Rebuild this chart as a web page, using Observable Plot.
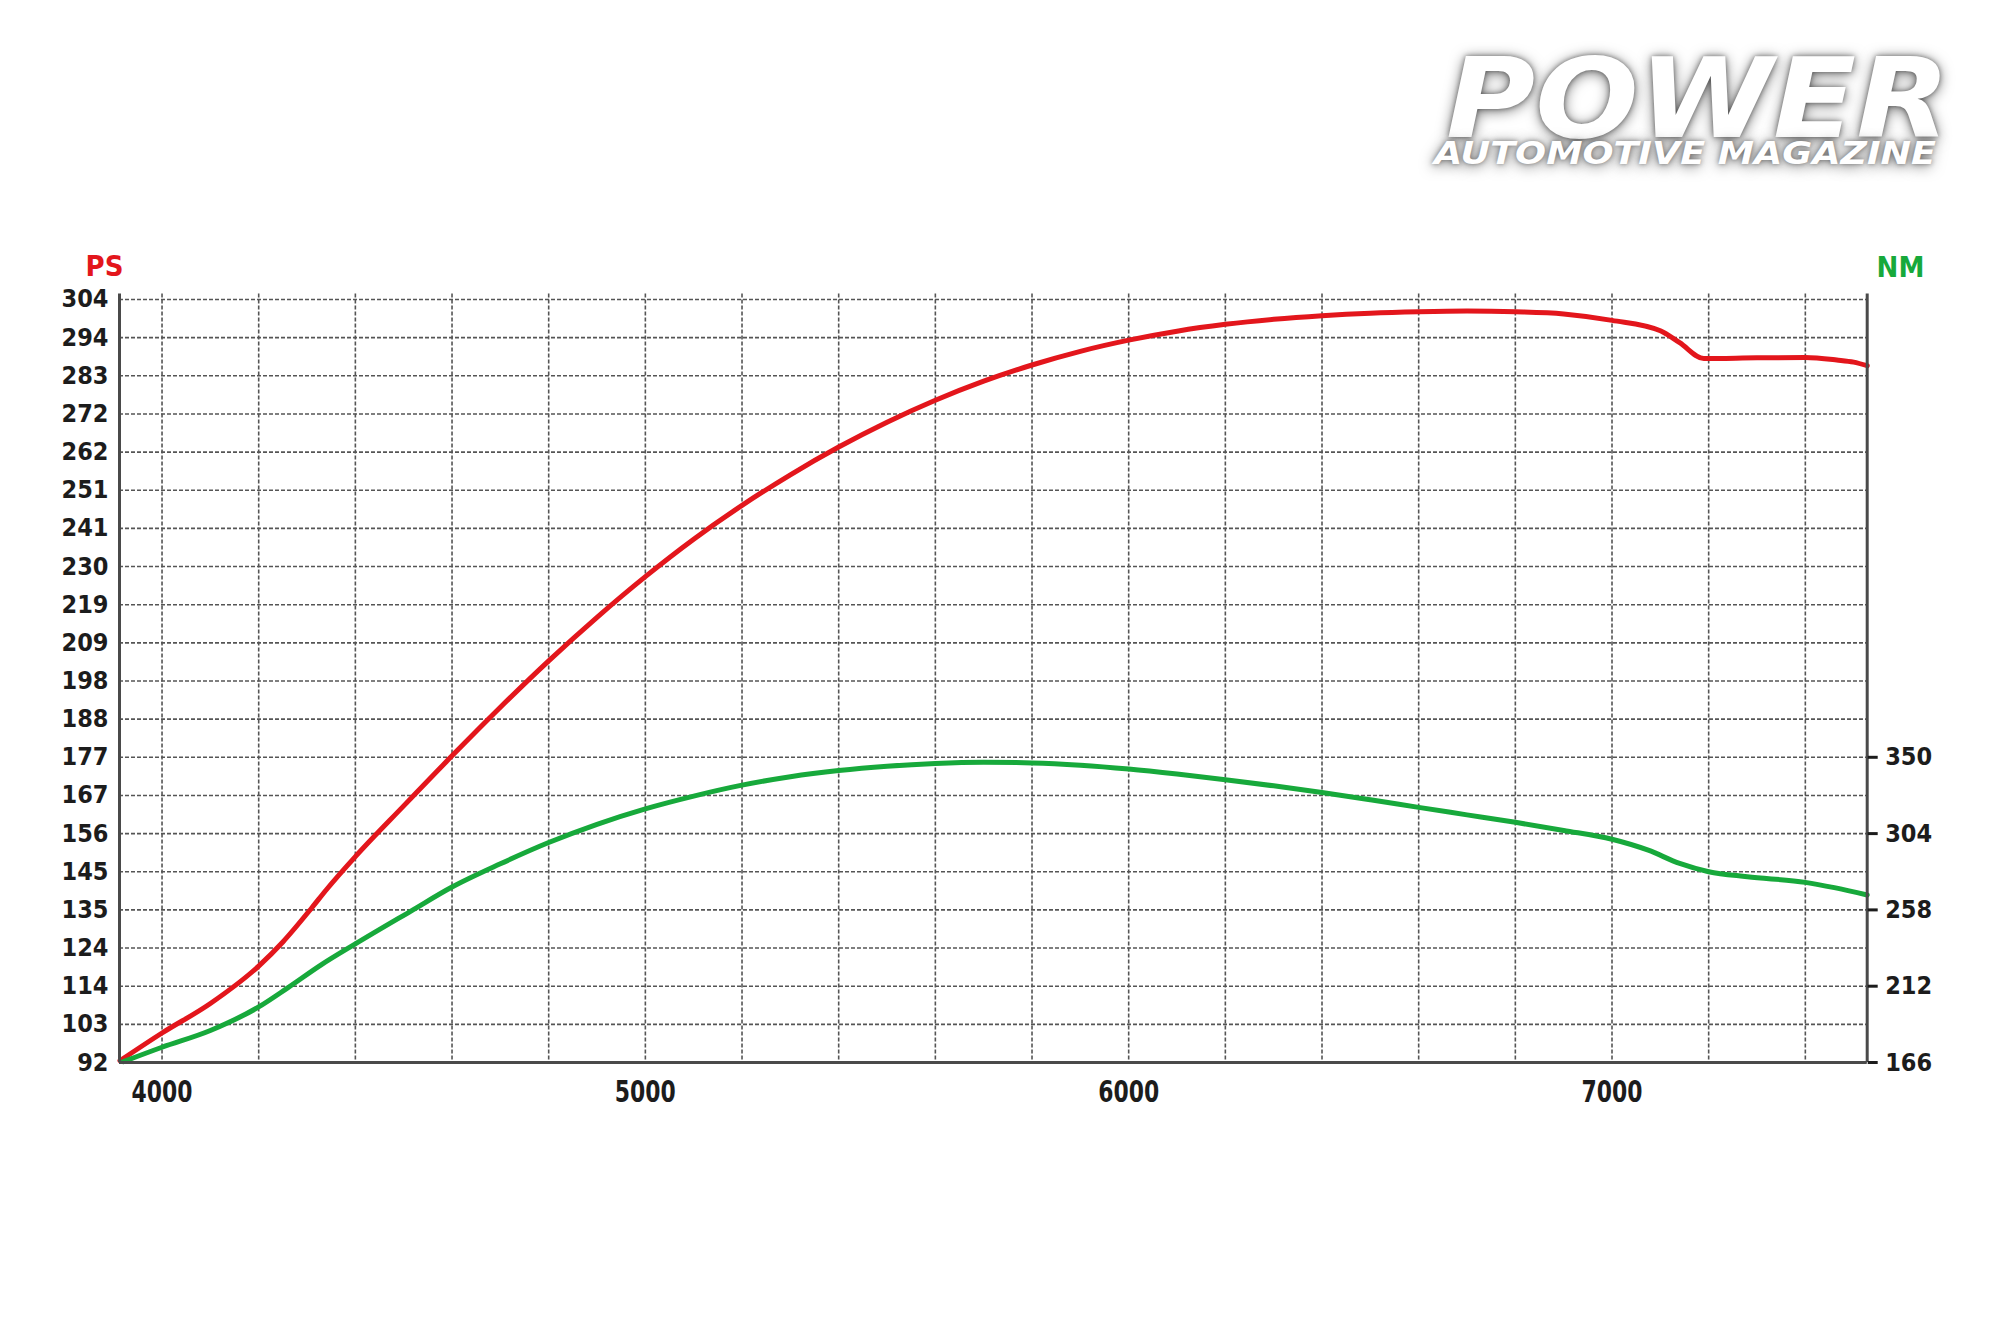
<!DOCTYPE html>
<html>
<head>
<meta charset="utf-8">
<script src="https://cdn.jsdelivr.net/npm/d3@7"></script>
<script src="https://cdn.jsdelivr.net/npm/@observablehq/plot@0.6"></script>
<style>
  html, body { margin: 0; padding: 0; background: #fff; }
  #wrap { position: relative; width: 2000px; height: 1333px; overflow: hidden; }
  #chart svg { display: block; }
  .logo {
    position: absolute; margin: 0; padding: 0; white-space: nowrap;
    font-family: "DejaVu Sans", sans-serif; font-weight: bold; font-style: italic;
    color: #fff; transform-origin: 0 0;
    text-shadow: 0 0 5px rgba(0,0,0,0.45), 0 2px 13px rgba(0,0,0,0.55);
  }
  #logoMain { left: 1446px; top: 59px; font-size: 110px; line-height: 80px; }
  #logoSub { left: 1434px; top: 141.6px; font-size: 31.5px; line-height: 23px; }
</style>
</head>
<body>
<div id="wrap">
  <div id="chart"></div>
  <div class="logo" id="logoMain">POWER</div>
  <div class="logo" id="logoSub">AUTOMOTIVE MAGAZINE</div>
</div>
<script>
// ---- data ----
const rpmPS = [3913, 4000, 4100, 4200, 4250, 4310, 4340, 4400, 4500, 4600, 4700, 4800, 4900, 5000, 5100, 5200, 5300, 5400, 5500, 5600, 5700, 5800, 5900, 6000, 6100, 6200, 6300, 6400, 6500, 6600, 6700, 6800, 6900, 7000, 7100, 7140, 7190, 7300, 7400, 7465, 7500, 7528];
const psValues = [92.5, 100.2, 108.4, 118.8, 125.5, 135, 140, 149.2, 163.3, 177.2, 190.7, 203.6, 215.7, 227, 237.4, 246.8, 255.3, 263, 269.9, 276, 281.3, 285.8, 289.6, 292.7, 295.2, 297.1, 298.5, 299.5, 300.2, 300.6, 300.8, 300.6, 300, 298.2, 295.3, 292, 287.6, 287.8, 287.9, 287.2, 286.6, 285.6];

const rpmNM = [3920, 4000, 4100, 4200, 4260, 4330, 4400, 4515, 4600, 4700, 4800, 4900, 5000, 5100, 5200, 5300, 5400, 5500, 5600, 5700, 5800, 5900, 6000, 6100, 6200, 6300, 6400, 6500, 6600, 6700, 6800, 6900, 7000, 7075, 7140, 7200, 7280, 7400, 7460, 7528];
const nmValues = [166.5, 175.2, 185.3, 199.5, 211, 225, 237.5, 257.3, 271.8, 285.8, 298.6, 309.6, 318.9, 326.6, 333.2, 338.3, 342, 344.6, 346.3, 347, 346.6, 345.2, 342.9, 339.9, 336.5, 332.8, 328.8, 324.4, 319.8, 315.3, 310.8, 305.9, 300.6, 294, 286, 281, 278, 274.6, 271.4, 267];

const psLabels = ["92", "103", "114", "124", "135", "145", "156", "167", "177", "188", "198", "209", "219", "230", "241", "251", "262", "272", "283", "294", "304"];
const nmLabels = ["166", "212", "258", "304", "350"];
const xLabels = [4000, 5000, 6000, 7000];
const xGrid = [4000, 4200, 4400, 4600, 4800, 5000, 5200, 5400, 5600, 5800, 6000, 6200, 6400, 6600, 6800, 7000, 7200, 7400];
const xDomain = [3912, 7528];

// ---- scale helpers ----
const psMin = 92, psMax = 304, nmMin = 166, nmStep = 23, steps = 20;
const psStep = (psMax - psMin) / steps;
const toPS = v => psMin + (v - nmMin) / nmStep * psStep;   // NM value on the PS scale
const psTicks = psLabels.map((_, i) => psMin + i * psStep);
const nmTicks = nmLabels.map(v => toPS(+v));

const psData = rpmPS.map((r, i) => ({rpm: r, v: psValues[i]}));
const nmData = rpmNM.map((r, i) => ({rpm: r, v: nmValues[i]}));

const RED = "#e3161c";
const GREEN = "#17a93b";
const FONT = '"DejaVu Sans Condensed", "DejaVu Sans", sans-serif';
const gridStyle = {stroke: "#555", strokeOpacity: 1, strokeWidth: 1.6, strokeDasharray: "4,2"};

const chart = Plot.plot({
  width: 2000,
  height: 1333,
  marginLeft: 119,
  marginRight: 133.3,
  marginTop: 293.6,
  marginBottom: 271,
  x: {domain: xDomain},
  y: {domain: [psMin, 305.5]},
  style: {background: "#fff", fontFamily: FONT, fontWeight: "bold", fontStretch: "condensed", color: "#1c1c1c"},
  marks: [
    Plot.gridX(xGrid, gridStyle),
    Plot.gridY(psTicks, gridStyle),
    Plot.line(psData, {x: "rpm", y: "v", stroke: RED, strokeWidth: 5, curve: "monotone-x"}),
    Plot.line(nmData, {x: "rpm", y: d => toPS(d.v), stroke: GREEN, strokeWidth: 5, curve: "monotone-x"}),
    Plot.ruleX(xDomain, {stroke: "#4a4a4a", strokeWidth: 3}),
    Plot.ruleY([psMin], {stroke: "#4a4a4a", strokeWidth: 3}),
    Plot.axisY(psTicks, {anchor: "left", tickSize: 0, tickPadding: 11, fontSize: 25, label: null,
      tickFormat: d => psLabels[psTicks.indexOf(d)]}),
    Plot.axisY(nmTicks, {anchor: "right", tickSize: 10, tickPadding: 8, strokeWidth: 3, fontSize: 25, label: null,
      tickFormat: d => nmLabels[nmTicks.indexOf(d)]}),
    Plot.axisX(xLabels, {anchor: "bottom", tickSize: 0, tickPadding: 18, fontSize: 30, label: null,
      tickFormat: d => String(d)}),
    Plot.text(["PS"], {frameAnchor: "top-left", text: d => d, dx: -15, dy: -27.6, lineAnchor: "middle", fill: RED, fontSize: 29, fontWeight: "bold", textAnchor: "middle"}),
    Plot.text(["NM"], {frameAnchor: "top-right", text: d => d, dx: 33.3, dy: -26.3, lineAnchor: "middle", fill: GREEN, fontSize: 29, fontWeight: "bold", textAnchor: "middle"})
  ]
});

d3.select(chart).selectAll('g[aria-label="x-axis tick label"] text')
  .attr("textLength", 61).attr("lengthAdjust", "spacingAndGlyphs");

document.getElementById("chart").appendChild(chart);

// stretch the logo words horizontally to the reference widths
[["logoMain", 504], ["logoSub", 502]].forEach(([id, target]) => {
  const el = document.getElementById(id);
  const w = el.getBoundingClientRect().width;
  if (w > 0) el.style.transform = `scaleX(${target / w})`;
});
</script>
</body>
</html>
